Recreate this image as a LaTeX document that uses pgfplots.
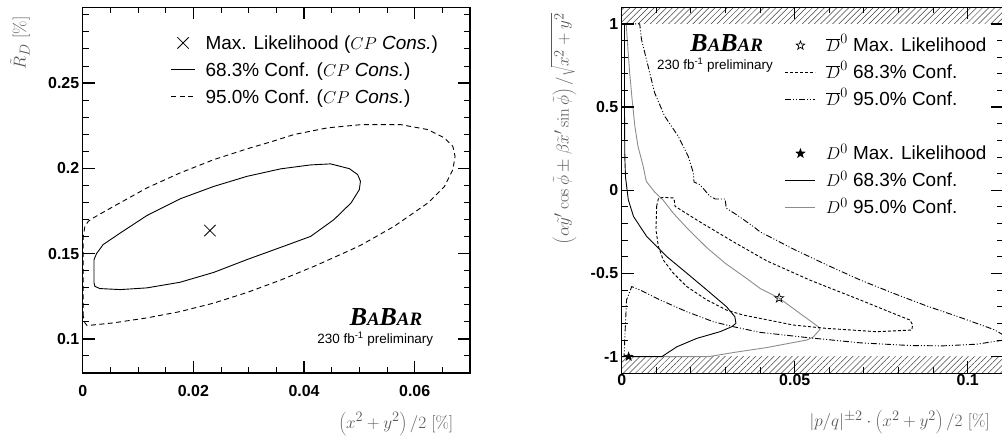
\documentclass[border=0pt]{standalone}
\usepackage[no-math]{fontspec}
\setmainfont{Liberation Sans}
\newfontfamily\babarfont{Liberation Serif}
\usepackage{pgfplots}
\pgfplotsset{compat=1.18}
\usetikzlibrary{patterns.meta}

% five-pointed stars for the max. likelihood points
\def\starpath{%
  \pgfpathmoveto{\pgfpointpolar{90}{\pgfplotmarksize}}%
  \pgfpathlineto{\pgfpointpolar{126}{0.4\pgfplotmarksize}}%
  \pgfpathlineto{\pgfpointpolar{162}{\pgfplotmarksize}}%
  \pgfpathlineto{\pgfpointpolar{198}{0.4\pgfplotmarksize}}%
  \pgfpathlineto{\pgfpointpolar{234}{\pgfplotmarksize}}%
  \pgfpathlineto{\pgfpointpolar{270}{0.4\pgfplotmarksize}}%
  \pgfpathlineto{\pgfpointpolar{306}{\pgfplotmarksize}}%
  \pgfpathlineto{\pgfpointpolar{342}{0.4\pgfplotmarksize}}%
  \pgfpathlineto{\pgfpointpolar{18}{\pgfplotmarksize}}%
  \pgfpathlineto{\pgfpointpolar{54}{0.4\pgfplotmarksize}}%
  \pgfpathclose}
\pgfdeclareplotmark{ostar}{\starpath\pgfusepathqstroke}
\pgfdeclareplotmark{fstar}{\starpath\pgfusepathqfillstroke}

\newcommand{\babar}{{\babarfont\bfseries\itshape
  \fontsize{26}{26}\selectfont B\fontsize{19}{19}\selectfont A%
  \fontsize{26}{26}\selectfont B\fontsize{19}{19}\selectfont AR}}
\newcommand{\prelim}{{\fontsize{13.5}{14}\selectfont 230 fb\textsuperscript{-1} preliminary}}

\pgfplotsset{
  babar/.style={
    scale only axis,
    axis on top,
    scaled ticks=false,
    axis line style={line width=1.5bp},
    major tick style={line width=1.4bp, black},
    minor tick style={line width=0.9bp, black},
    major tick length=12bp,
    minor tick length=6bp,
    tick align=inside,
    ticklabel style={font=\fontsize{16}{16}\selectfont},
    label style={font=\fontsize{19}{22}\selectfont, text=black!65},
    legend cell align=left,
    legend style={draw=none, fill=none, inner sep=0pt, outer sep=0pt,
      row sep=8bp, font=\fontsize{19}{22}\selectfont,
      nodes={inner sep=0pt, text height=16bp, text depth=3bp},
      /tikz/every odd column/.append style={column sep=10bp}},
  },
  c68/.style={black, line width=0.9bp},
  c95/.style={black, line width=0.9bp, dash pattern=on 5bp off 3.5bp},
  db68/.style={black, line width=0.9bp, dash pattern=on 3bp off 2bp},
  db95/.style={black, line width=0.9bp,
    dash pattern=on 6bp off 2bp on 1bp off 2bp on 1bp off 2bp},
  d68/.style={black, line width=0.9bp},
  d95/.style={black!45, line width=0.9bp},
}

\begin{document}
\begin{tikzpicture}
\useasboundingbox (0bp,0bp) rectangle (1002bp,437bp);

% ---------------- left panel ----------------
\begin{axis}[babar,
  at={(82.7bp,64bp)}, anchor=south west,
  width=387.3bp, height=365.7bp,
  xmin=0, xmax=0.07, ymin=0.08, ymax=0.2944,
  xtick={0,0.02,0.04,0.06},
  xticklabels={\textbf{0},\textbf{0.02},\textbf{0.04},\textbf{0.06}},
  minor xtick={0.005,0.01,...,0.07},
  ytick={0.1,0.15,0.2,0.25},
  yticklabels={\textbf{0.1},\textbf{0.15},\textbf{0.2},\textbf{0.25}},
  minor ytick={0.08,0.09,...,0.29},
  xticklabel style={yshift=-9bp},
  xlabel={$\left(x^2+y^2\right)/2\ [\%]$},
  ylabel={$\tilde{R}_D\ [\%]$},
  xlabel style={at={(axis description cs:0.966,-0.139)}, anchor=east},
  ylabel style={at={(axis description cs:-0.162,0.984)}, anchor=east},
  legend image code/.code={\draw[mark repeat=2,mark phase=2,#1]
    plot coordinates {(0bp,0bp) (12bp,0bp) (24bp,0bp)};},
  legend style={at={(axis description cs:0.227,0.9285)}, anchor=north west},
]
\addlegendimage{only marks, mark=x, mark size=8bp, black, line width=0.8bp}
\addlegendentry{Max. Likelihood ($CP$ \textit{Cons.})}
\addlegendimage{c68}
\addlegendentry{68.3\% Conf. ($CP$ \textit{Cons.})}
\addlegendimage{c95}
\addlegendentry{95.0\% Conf. ($CP$ \textit{Cons.})}

% 68.3% contour
\addplot[c68, forget plot] coordinates {
 (0.00205,0.1455) (0.00205,0.1465) (0.0025,0.1500) (0.0037,0.1553) (0.0068,0.1621)
 (0.0116,0.1723) (0.0176,0.1821) (0.0237,0.1894) (0.0297,0.1953) (0.0358,0.1997)
 (0.0412,0.2020) (0.0448,0.2026) (0.0482,0.1998) (0.0497,0.1963) (0.0502,0.1924)
 (0.0500,0.1875) (0.0485,0.1797) (0.0454,0.1699) (0.0412,0.1601) (0.0365,0.1545)
 (0.0297,0.1465) (0.0237,0.1390) (0.0176,0.1332) (0.0116,0.1299) (0.0068,0.1289)
 (0.0031,0.1295) (0.0022,0.1308) (0.00205,0.1328) (0.00205,0.1455)};
% 95.0% contour
\addplot[c95, forget plot] coordinates {
 (0.0001,0.1132) (0.0001,0.1601) (0.0004,0.1660) (0.0010,0.1689) (0.0019,0.1709)
 (0.0056,0.1777) (0.0116,0.1885) (0.0176,0.1973) (0.0237,0.2051) (0.0297,0.2114)
 (0.0340,0.2155) (0.0382,0.2198) (0.0442,0.2237) (0.0503,0.2256) (0.0575,0.2256)
 (0.0624,0.2227) (0.0654,0.2178) (0.0669,0.2129) (0.0673,0.2070) (0.0669,0.1992)
 (0.0654,0.1894) (0.0624,0.1797) (0.0563,0.1660) (0.0503,0.1550) (0.0480,0.1515)
 (0.0420,0.1428) (0.0358,0.1345) (0.0297,0.1272) (0.0237,0.1210) (0.0176,0.1160)
 (0.0116,0.1123) (0.0056,0.1094) (0.0008,0.1078) (0.0004,0.1094) (0.0001,0.1132)};
% maximum likelihood
\addplot[only marks, mark=x, mark size=8bp, black, line width=0.8bp, forget plot]
  coordinates {(0.0230,0.1635)};
\end{axis}

% ---------------- right panel ----------------
\begin{axis}[babar,
  at={(621.7bp,63.7bp)}, anchor=south west,
  width=381bp, height=366bp,
  xmin=0, xmax=0.1101, ymin=-1.1, ymax=1.1,
  xtick={0,0.05,0.1},
  xticklabels={\textbf{0},\textbf{0.05},\textbf{0.1}},
  minor xtick={0.01,0.02,...,0.11},
  ytick={-1,-0.5,0,0.5,1},
  yticklabels={\textbf{-1},\textbf{-0.5},\textbf{0},\textbf{0.5},\textbf{1}},
  minor ytick={-1.1,-1,...,1.1},
  xticklabel style={yshift=2bp},
  xlabel={$|p/q|^{\pm2}\cdot\left(x^2+y^2\right)/2\ [\%]$},
  ylabel={$\left(\alpha\tilde{y}'\cos\tilde{\phi}\pm\beta\tilde{x}'\sin\tilde{\phi}\right)/\sqrt{x^2+y^2}$},
  xlabel style={at={(axis description cs:0.975,-0.134)}, anchor=east},
  ylabel style={at={(axis description cs:-0.153,0.993)}, anchor=east},
  legend image code/.code={\draw[mark repeat=2,mark phase=2,#1]
    plot coordinates {(0bp,0bp) (15bp,0bp) (30bp,0bp)};},
  legend style={at={(axis description cs:0.4286,0.9216)}, anchor=north west},
]
\addlegendimage{only marks, mark=ostar, mark size=4.5bp, black, line width=0.7bp}
\addlegendentry{$\overline{D}^0$ Max. Likelihood}
\addlegendimage{db68}
\addlegendentry{$\overline{D}^0$ 68.3\% Conf.}
\addlegendimage{db95}
\addlegendentry{$\overline{D}^0$ 95.0\% Conf.}
\addlegendimage{empty legend}
\addlegendentry{}
\addlegendimage{only marks, mark=fstar, mark size=4.5bp, black, line width=0.7bp}
\addlegendentry{$D^0$ Max. Likelihood}
\addlegendimage{d68}
\addlegendentry{$D^0$ 68.3\% Conf.}
\addlegendimage{d95}
\addlegendentry{$D^0$ 95.0\% Conf.}

% unphysical regions
\fill[pattern={Lines[angle=45,distance=4.3bp,line width=0.5bp]}, pattern color=black!75]
  (axis cs:0,1) rectangle (axis cs:0.1101,1.1);
\fill[pattern={Lines[angle=45,distance=4.3bp,line width=0.5bp]}, pattern color=black!75]
  (axis cs:0,-1.1) rectangle (axis cs:0.1101,-1);

% D0 95.0%
\addplot[d95, forget plot] coordinates {
 (0.0013,1.0) (0.0018,0.849) (0.0023,0.708) (0.0030,0.547) (0.0038,0.386)
 (0.0047,0.265) (0.0062,0.145) (0.0071,0.054) (0.0095,-0.010) (0.0120,-0.060)
 (0.0150,-0.140) (0.0188,-0.225) (0.0246,-0.345) (0.0300,-0.440) (0.0361,-0.530)
 (0.0400,-0.590) (0.0455,-0.648) (0.0515,-0.740) (0.0568,-0.820) (0.0573,-0.836)
 (0.0554,-0.881) (0.0535,-0.900) (0.0496,-0.915) (0.0420,-0.945) (0.0323,-0.975)
 (0.0260,-0.997) (0.0245,-1.0) (0.0116,-1.0)};
% D0 68.3%
\addplot[d68, forget plot] coordinates {
 (0.0008,1.0) (0.0008,0.5) (0.0009,0.2) (0.0011,0.08) (0.0019,-0.056)
 (0.0034,-0.157) (0.0072,-0.277) (0.0130,-0.398) (0.0188,-0.498) (0.0246,-0.599)
 (0.0303,-0.700) (0.0327,-0.760) (0.0330,-0.800) (0.0318,-0.820) (0.0284,-0.850)
 (0.0217,-0.890) (0.0159,-0.941) (0.0116,-1.0) (0.0,-1.0)};
% Dbar0 68.3%
\addplot[db68, forget plot] coordinates {
 (0.0101,-0.096) (0.0106,-0.050) (0.0120,-0.042) (0.0149,-0.046) (0.0152,-0.060)
 (0.0154,-0.096) (0.0226,-0.190) (0.0323,-0.310) (0.0420,-0.425) (0.0544,-0.540)
 (0.0689,-0.659) (0.0785,-0.740) (0.0833,-0.780) (0.0841,-0.810) (0.0838,-0.840)
 (0.0737,-0.850) (0.0592,-0.830) (0.0496,-0.810) (0.0400,-0.770) (0.0351,-0.750)
 (0.0303,-0.720) (0.0246,-0.659) (0.0188,-0.579) (0.0149,-0.498) (0.0120,-0.418)
 (0.0106,-0.338) (0.0099,-0.237) (0.0101,-0.096)};
% Dbar0 95.0%
\addplot[db95, forget plot] coordinates {
 (0.0007,1.0) (0.0052,1.0) (0.0057,0.909) (0.0076,0.748) (0.0095,0.587)
 (0.0124,0.446) (0.0163,0.326) (0.0192,0.205) (0.0207,0.105) (0.0209,0.050)
 (0.0226,0.034) (0.0255,-0.036) (0.0270,-0.052) (0.0299,-0.052) (0.0302,-0.107)
 (0.0332,-0.147) (0.0380,-0.217) (0.0400,-0.250) (0.0496,-0.353) (0.0592,-0.448)
 (0.0689,-0.539) (0.0785,-0.619) (0.0881,-0.695) (0.0978,-0.764) (0.1074,-0.836)
 (0.1095,-0.860) (0.1110,-0.880) (0.1105,-0.900) (0.1026,-0.925) (0.0929,-0.935)
 (0.0833,-0.933) (0.0690,-0.917) (0.0544,-0.887) (0.0400,-0.854) (0.0323,-0.820)
 (0.0265,-0.790) (0.0188,-0.730) (0.0111,-0.659) (0.0053,-0.599) (0.0029,-0.579)
 (0.0014,-0.659) (0.0010,-0.840) (0.0007,-0.991) (0.0007,-1.0)};
% maximum likelihood points
\addplot[only marks, mark=ostar, mark size=4.7bp, black, line width=0.7bp, forget plot]
  coordinates {(0.0455,-0.648)};
\addplot[only marks, mark=fstar, mark size=4.2bp, black, line width=0.7bp, forget plot]
  coordinates {(0.0020,-1.0)};
\end{axis}

% experiment labels
\node[anchor=base, inner sep=0pt, text depth=0pt] at (386bp,111.5bp) {\babar};
\node[anchor=base, inner sep=0pt, text height=10bp] at (375.3bp,93bp) {\prelim};
\node[anchor=base, inner sep=0pt, text depth=0pt] at (726.7bp,385.5bp) {\babar};
\node[anchor=base, inner sep=0pt, text height=10bp] at (715bp,367.7bp) {\prelim};
\end{tikzpicture}
\end{document}
